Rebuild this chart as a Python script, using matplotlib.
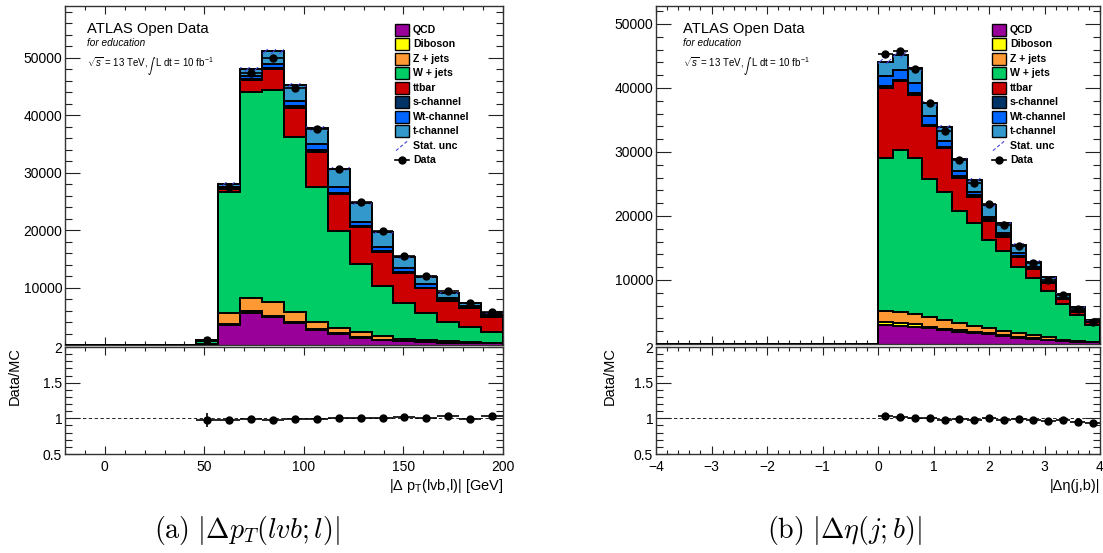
import numpy as np
import matplotlib
matplotlib.use("Agg")
import matplotlib.pyplot as plt
from matplotlib.patches import Rectangle
from matplotlib.lines import Line2D
from matplotlib.ticker import MultipleLocator, FixedLocator

plt.rcParams['font.family'] = ['Liberation Sans', 'DejaVu Sans']
plt.rcParams['mathtext.fontset'] = 'custom'
plt.rcParams['mathtext.rm'] = 'Liberation Sans'
plt.rcParams['mathtext.it'] = 'Liberation Sans:italic'
plt.rcParams['mathtext.bf'] = 'Liberation Sans:bold'
plt.rcParams['hatch.linewidth'] = 0.7

# ---------------------------------------------------------------- data
processes = ["QCD", "Diboson", "Z + jets", "W + jets", "ttbar",
             "s-channel", "Wt-channel", "t-channel"]
colors = ["#990099", "#ffff00", "#ff9933", "#00cc66", "#cc0000",
          "#003366", "#0066ff", "#3399cc"]

# |Delta pT(lvb,l)| [GeV], 20 bins from -20 to 200
edges_pt = np.linspace(-20, 200, 21)
empty_pt = [0] * 6
qcd_pt = empty_pt + [100, 3480, 5510, 4810, 3770, 2610, 1910, 1275, 870, 640, 520, 410, 350, 290]
dib_pt = empty_pt + [10, 220, 460, 290, 230, 170, 120, 80, 60, 40, 30, 25, 20, 15]
zjets_pt = empty_pt + [60, 1810, 2260, 2440, 1680, 1280, 980, 845, 640, 370, 260, 205, 90, 105]
wjets_pt = empty_pt + [600, 21040, 35830, 36920, 30550, 23480, 16820, 11830, 8690, 6200, 4700, 3300, 2730, 1910]
ttbar_pt = empty_pt + [60, 580, 2030, 3540, 5100, 6080, 6370, 6440, 5860, 5330, 4350, 3770, 3190, 2610]
schan_pt = empty_pt + [5, 70, 160, 200, 200, 250, 220, 200, 170, 150, 120, 100, 80, 70]
wtchan_pt = empty_pt + [20, 340, 530, 790, 900, 1030, 1000, 780, 810, 720, 630, 420, 320, 390]
tchan_pt = empty_pt + [45, 520, 1220, 2140, 2790, 2780, 3130, 3190, 2500, 1800, 1280, 870, 580, 150]
data_pt = empty_pt + [880, 27540, 47360, 50030, 44810, 37510, 30610, 24900, 19800, 15550, 12000, 9450, 7300, 5760]
mcunc_pt = empty_pt + [85, 330, 420, 450, 420, 380, 350, 310, 280, 250, 220, 190, 170, 150]

# |Delta eta(j,b)|, 30 bins from -4 to 4
edges_eta = np.linspace(-4, 4, 31)
empty_eta = [0] * 15
qcd_eta = empty_eta + [2900, 2870, 2710, 2450, 2190, 1930, 1670, 1510, 1250, 990, 830, 630, 480, 360, 260]
dib_eta = empty_eta + [500, 470, 370, 260, 210, 210, 150, 160, 160, 110, 90, 70, 40, 30, 20]
zjets_eta = empty_eta + [1800, 1710, 1610, 1460, 1350, 1190, 990, 780, 620, 570, 490, 340, 180, 80, 80]
wjets_eta = empty_eta + [23900, 25260, 24430, 21610, 20050, 17450, 16050, 13800, 12550, 10420, 8850, 7240, 5550, 4060, 2610]
ttbar_eta = empty_eta + [10900, 10780, 9790, 8280, 6780, 5210, 4160, 3020, 2190, 1560, 1410, 1200, 780, 520, 420]
schan_eta = empty_eta + [250, 160, 260, 160, 200, 260, 210, 210, 210, 150, 120, 100, 70, 50, 40]
wtchan_eta = empty_eta + [1650, 1560, 1560, 1410, 990, 830, 570, 420, 310, 370, 300, 160, 140, 130, 70]
tchan_eta = empty_eta + [2200, 2350, 2340, 1980, 2090, 1780, 1830, 1820, 1670, 1300, 780, 680, 580, 500, 200]
data_eta = empty_eta + [45300, 45780, 43020, 37710, 33280, 28750, 25210, 21880, 18600, 15250, 12620, 10000, 7660, 5440, 3440]
mcunc_eta = empty_eta + [420, 430, 415, 390, 370, 340, 320, 300, 280, 250, 230, 200, 175, 150, 120]

# ---------------------------------------------------------------- layout
W, H = 1103, 553
fig = plt.figure(figsize=(W / 100, H / 100), dpi=100)


def fx(x):
    return x / W


def fy(y):
    return 1 - y / H


def box(x0, y0, x1, y1):
    return [fx(x0), fy(y1), (x1 - x0) / W, (y1 - y0) / H]


axL = fig.add_axes(box(65, 6, 503, 345))
rL = fig.add_axes(box(65, 347, 503, 454))
axR = fig.add_axes(box(656, 6, 1100, 344))
rR = fig.add_axes(box(656, 347, 1100, 454))


def style(ax, xmaj, xmin, ymaj, ymin):
    ax.xaxis.set_major_locator(MultipleLocator(xmaj))
    ax.xaxis.set_minor_locator(MultipleLocator(xmin))
    ax.yaxis.set_major_locator(MultipleLocator(ymaj))
    ax.yaxis.set_minor_locator(MultipleLocator(ymin))
    ax.tick_params(which='both', direction='in', top=True, right=True,
                   colors='#222222', labelcolor='k', labelsize=10, width=0.8)
    ax.tick_params(axis='y', which='major', length=10.5, pad=2)
    ax.tick_params(axis='y', which='minor', length=5.3)
    ax.tick_params(axis='x', which='major', length=5.8, pad=4)
    ax.tick_params(axis='x', which='minor', length=3.2)
    for s in ax.spines.values():
        s.set_linewidth(1.0)
        s.set_color('#333333')


def draw(ax, rax, edges, comps, data, mcunc, ymax):
    edges = np.asarray(edges, dtype=float)
    data = np.asarray(data, dtype=float)
    mcunc = np.asarray(mcunc, dtype=float)
    centers = 0.5 * (edges[:-1] + edges[1:])
    half = 0.5 * np.diff(edges)
    cum = np.cumsum(np.array(comps, dtype=float), axis=0)
    for i in range(len(comps) - 1, -1, -1):
        ax.stairs(cum[i], edges, baseline=0, fill=True, color=colors[i], lw=0, zorder=2)
        ax.stairs(cum[i], edges, baseline=0, fill=False, color='k', lw=1.4, zorder=3)
    total = cum[-1]
    m = total > 0
    ax.bar(centers[m], 2 * mcunc[m], width=np.diff(edges)[m], bottom=(total - mcunc)[m],
           fill=False, hatch='////', edgecolor='#4444dd', lw=0, zorder=4)
    ax.errorbar(centers[m], data[m], xerr=half[m], yerr=np.sqrt(data[m]), fmt='o',
                color='k', ms=5, elinewidth=1.2, capsize=0, zorder=5)
    ax.set_xlim(edges[0], edges[-1])
    ax.set_ylim(0, ymax)
    ax.tick_params(labelbottom=False)

    ratio = data[m] / total[m]
    rerr = np.sqrt(data[m] + mcunc[m] ** 2) / total[m]
    rax.axhline(1, color='k', lw=0.6, ls=(0, (4, 3)), zorder=1)
    rax.errorbar(centers[m], ratio, xerr=half[m], yerr=rerr, fmt='o', color='k',
                 ms=5, elinewidth=1.2, capsize=0, zorder=5)
    rax.set_xlim(edges[0], edges[-1])
    rax.set_ylim(0.5, 2.0)


comps_pt = [qcd_pt, dib_pt, zjets_pt, wjets_pt, ttbar_pt, schan_pt, wtchan_pt, tchan_pt]
comps_eta = [qcd_eta, dib_eta, zjets_eta, wjets_eta, ttbar_eta, schan_eta, wtchan_eta, tchan_eta]

style(axL, 50, 10, 10000, 2000)
style(rL, 50, 10, 0.5, 0.1)
style(axR, 1, 0.2, 10000, 2000)
style(rR, 1, 0.2, 0.5, 0.1)

draw(axL, rL, edges_pt, comps_pt, data_pt, mcunc_pt, 59000)
draw(axR, rR, edges_eta, comps_eta, data_eta, mcunc_eta, 52800)

for ax in (axL, axR):
    ax.yaxis.set_major_locator(FixedLocator([0, 10000, 20000, 30000, 40000, 50000]))
    ax.set_yticklabels(['', '10000', '20000', '30000', '40000', '50000'])
for rax in (rL, rR):
    rax.yaxis.set_major_locator(FixedLocator([0.5, 1.0, 1.5, 2.0]))
    rax.set_yticklabels(['0.5', '1', '1.5', '2'])
rR.set_xticks([-4, -3, -2, -1, 0, 1, 2, 3, 4])
rR.set_xticklabels(['\u22124', '\u22123', '\u22122', '\u22121', '0', '1', '2', '3', '4'])

# ---------------------------------------------------------------- labels
for x0 in (87, 683):
    fig.text(fx(x0), fy(33), "ATLAS Open Data", fontsize=10.6, va='baseline')
    fig.text(fx(x0), fy(46), "for education", fontsize=7.2, style='italic', va='baseline')
    fig.text(fx(x0), fy(67), r"$\sqrt{s}$ = 13 TeV,", fontsize=7, va='baseline')
    fig.text(fx(x0 + 60), fy(69), r"$\int$", fontsize=5.5, math_fontfamily='cm',
             va='baseline')
    fig.text(fx(x0 + 68), fy(67), r"L dt = 10 fb$^{-1}$", fontsize=7, va='baseline')

fig.text(fx(503), fy(490), r"|Δ p$_\mathregular{T}$(lvb,l)| [GeV]", fontsize=10.5,
         ha='right', va='baseline')
fig.text(fx(1100), fy(490), "|Δη(j,b)|", fontsize=10.5, ha='right', va='baseline')
fig.text(fx(15), fy(347), "Data/MC", fontsize=10.5, rotation=90, ha='center', va='top')
fig.text(fx(610), fy(347), "Data/MC", fontsize=10.5, rotation=90, ha='center', va='top')

fig.text(fx(246.5), fy(538), r"$\mathrm{(a)}\ |\Delta p_T(lvb;l)|$", fontsize=20.2,
         math_fontfamily='cm', ha='center', va='baseline')
fig.text(fx(845), fy(538), r"$\mathrm{(b)}\ |\Delta\eta(j;b)|$", fontsize=20.2,
         math_fontfamily='cm', ha='center', va='baseline')

# ---------------------------------------------------------------- legends
rows = [30 + 14.45 * k for k in range(10)]
for bx in (395, 992):
    for i, name in enumerate(processes):
        yc = rows[i]
        fig.add_artist(Rectangle((fx(bx), fy(yc + 6)), 14 / W, 12 / H, transform=fig.transFigure,
                                 facecolor=colors[i], edgecolor='k', lw=1.0))
        fig.text(fx(bx + 18), fy(yc), name, fontsize=7.6, fontweight='bold', va='center')
    yc = rows[8]
    fig.add_artist(Line2D([fx(bx + 1), fx(bx + 13)], [fy(yc + 5), fy(yc - 5)],
                          transform=fig.transFigure, color='#4444dd', lw=0.8, ls=(0, (3, 2))))
    fig.text(fx(bx + 18), fy(yc), "Stat. unc", fontsize=7.6, fontweight='bold', va='center')
    yc = rows[9]
    fig.add_artist(Line2D([fx(bx), fx(bx + 14)], [fy(yc), fy(yc)], transform=fig.transFigure,
                          color='k', lw=1.2))
    fig.add_artist(Line2D([fx(bx + 7)], [fy(yc)], transform=fig.transFigure, marker='o',
                          color='k', ms=5))
    fig.text(fx(bx + 18), fy(yc), "Data", fontsize=7.6, fontweight='bold', va='center')

fig.savefig("out.png", dpi=100)
